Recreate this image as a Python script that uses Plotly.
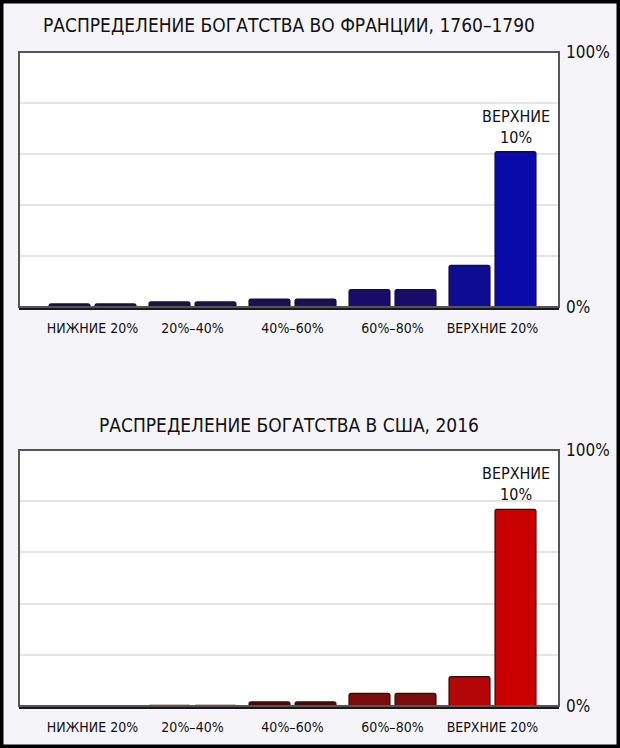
import plotly.graph_objects as go

# wealth share by decile, in percent
quintiles = ["НИЖНИЕ 20%", "20%–40%", "40%–60%", "60%–80%", "ВЕРХНИЕ 20%"]
france_low = [1.2, 2.0, 3.1, 6.8, 16.3]
france_high = [1.2, 2.0, 3.1, 6.8, 60.9]
usa_low = [0.2, 0.3, 1.6, 4.9, 11.5]
usa_high = [0.2, 0.3, 1.6, 4.9, 76.8]

titles = ["РАСПРЕДЕЛЕНИЕ БОГАТСТВА ВО ФРАНЦИИ, 1760–1790",
          "РАСПРЕДЕЛЕНИЕ БОГАТСТВА В США, 2016"]
top_label = "ВЕРХНИЕ<br>10%"
y_ticks = [0, 20, 40, 60, 80, 100]
y_text = ["0%", "", "", "", "", "100%"]

# bar shades (thin bars look darker in the original)
blue_low = ["#1b1440", "#1b1440", "#1a1052", "#170c6c", "#0e0c92"]
blue_high = ["#1b1440", "#1b1440", "#1a1052", "#170c6c", "#0a0aa8"]
red_low = ["#3a0c0c", "#3a0c0c", "#4a0a0a", "#7a0c0c", "#b40606"]
red_high = ["#3a0c0c", "#3a0c0c", "#4a0a0a", "#7a0c0c", "#c80000"]

FONT = "DejaVu Sans Condensed, Liberation Sans Narrow, sans-serif"
W, H = 620, 748

fig = go.Figure()


def add_panel(n, low, high, c_low, c_high, edge):
    xa = "x" if n == 1 else "x%d" % n
    ya = "y" if n == 1 else "y%d" % n
    for vals, cols in ((low, c_low), (high, c_high)):
        fig.add_trace(go.Bar(
            x=quintiles, y=vals, xaxis=xa, yaxis=ya,
            marker=dict(color=cols, line=dict(color=edge, width=1.2), cornerradius=2),
            showlegend=False, hoverinfo="y",
        ))
    fig.add_annotation(
        x=quintiles[-1], y=high[-1], xref=xa, yref=ya, xshift=23, yshift=3,
        text=top_label, showarrow=False, yanchor="bottom",
        font=dict(family=FONT, size=16, color="#111"),
    )


add_panel(1, france_low, france_high, blue_low, blue_high, "#120c40")
add_panel(2, usa_low, usa_high, red_low, red_high, "#3a0606")

# pixel boxes of the two plot frames: (left, right, top, bottom)
boxes = [(19, 559, 52, 307), (19, 559, 450, 706)]
title_y = [25, 425]

fig.update_layout(
    width=W, height=H, autosize=False,
    margin=dict(l=0, r=0, t=0, b=0, pad=0, autoexpand=False),
    paper_bgcolor="#f5f5f9", plot_bgcolor="white",
    barmode="group", bargap=0.08, bargroupgap=0.11,
    font=dict(family=FONT, color="#111"),
)

for i, (l, r, t, b) in enumerate(boxes, start=1):
    suf = "" if i == 1 else str(i)
    fig.update_layout(**{
        "xaxis" + suf: dict(
            domain=[l / W, r / W], anchor="y" + suf, type="category",
            range=[-0.735, 4.665], showgrid=False, ticks="",
            showline=True, linecolor="#1a1a1a", linewidth=3,
            tickfont=dict(family=FONT, size=14, color="#111"),
            ticklabelstandoff=6, fixedrange=True, automargin=False,
        ),
        "yaxis" + suf: dict(
            domain=[1 - b / H, 1 - t / H], anchor="x" + suf, side="right",
            range=[0, 100], tickvals=y_ticks, ticktext=y_text,
            showgrid=True, gridcolor="#e4e4e8", gridwidth=1.5,
            zeroline=False, ticks="", showline=False,
            tickfont=dict(family=FONT, size=17, color="#111"),
            ticklabelstandoff=6, fixedrange=True, automargin=False,
        ),
    })
    fig.add_shape(type="rect", xref="x%s domain" % suf, yref="y%s domain" % suf,
                  x0=0, x1=1, y0=0, y1=1, line=dict(color="#555", width=2),
                  layer="above")
    fig.add_annotation(
        x=(l + r) / 2 / W, y=1 - title_y[i - 1] / H, xref="paper", yref="paper",
        text=titles[i - 1], showarrow=False, yanchor="middle",
        font=dict(family=FONT, size=19, color="#111"),
    )

# black border round the whole picture
fig.add_shape(type="rect", xref="paper", yref="paper", x0=0, x1=1, y0=0, y1=1,
              line=dict(color="black", width=7))

# pin the plot to the top-left corner of the page, no scrolling
pin = ("document.documentElement.style.margin='0';"
       "document.documentElement.style.overflow='hidden';"
       "document.body.style.margin='0';document.body.style.padding='0';"
       "document.body.style.overflow='hidden';"
       "var d=document.getElementById('{plot_id}');"
       "d.style.position='fixed';d.style.left='0px';d.style.top='0px';")
fig.write_html("out.html", post_script=pin, config={"displayModeBar": False})
